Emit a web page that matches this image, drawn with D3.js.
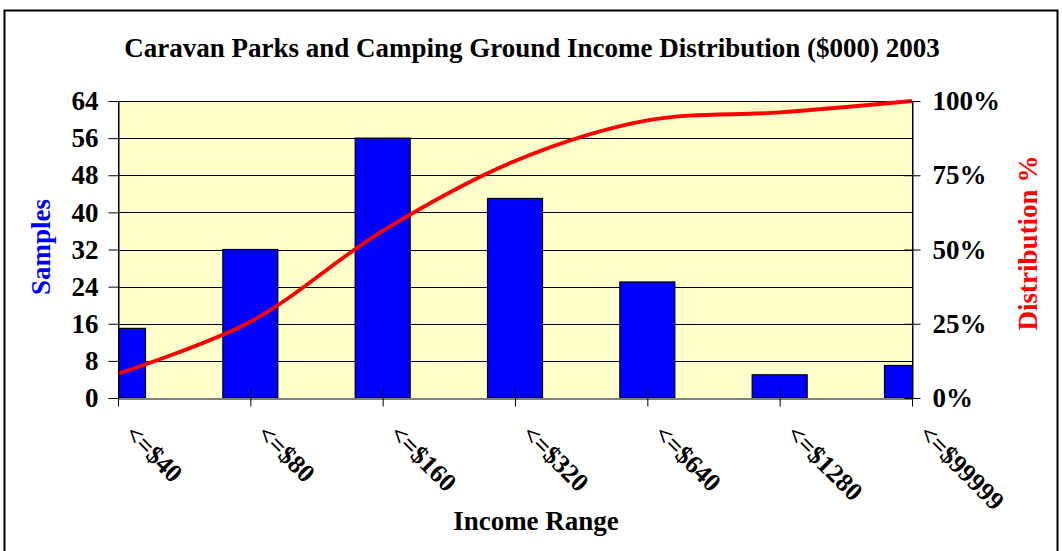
<!DOCTYPE html>
<html>
<head>
<meta charset="utf-8">
<script src="https://cdn.jsdelivr.net/npm/d3@7"></script>
<style>
  body { margin: 0; background: #fff; }
  text { font-family: "Liberation Serif", "Times New Roman", serif; font-weight: bold; }
</style>
</head>
<body>
<script>
// chart values
const categories = ["<=$40", "<=$80", "<=$160", "<=$320", "<=$640", "<=$1280", "<=$99999"];
const samples = [15, 32, 56, 43, 25, 5, 7];
const leftTicks = [0, 8, 16, 24, 32, 40, 48, 56, 64];
const rightTicks = [0, 0.25, 0.5, 0.75, 1];

const W = 1062, H = 551;
const plot = { left: 118, right: 912, top: 101, bottom: 398 };
const fs = 27;

const svg = d3.select("body").append("svg")
    .attr("width", W)
    .attr("height", H);

// outer frame
svg.append("rect")
    .attr("x", 4.5).attr("y", 10.5)
    .attr("width", 1053).attr("height", 560)
    .attr("fill", "none")
    .attr("stroke", "#000")
    .attr("stroke-width", 2);

const x = d3.scalePoint()
    .domain(categories)
    .range([plot.left, plot.right]);
const yL = d3.scaleLinear().domain([0, 64]).range([plot.bottom, plot.top]);
const yR = d3.scaleLinear().domain([0, 1]).range([plot.bottom, plot.top]);

// cumulative distribution
const total = d3.sum(samples);
let run = 0;
const cumul = samples.map(v => { run += v; return run / total; });

// plot background
svg.append("rect")
    .attr("x", plot.left).attr("y", plot.top)
    .attr("width", plot.right - plot.left)
    .attr("height", plot.bottom - plot.top)
    .attr("fill", "#FFFFCC");

svg.append("clipPath").attr("id", "clip")
    .append("rect")
    .attr("x", plot.left).attr("y", plot.top - 5)
    .attr("width", plot.right - plot.left)
    .attr("height", plot.bottom - plot.top + 5);

// gridlines
svg.append("g")
    .selectAll("line")
    .data(leftTicks.slice(1))
    .join("line")
    .attr("x1", plot.left).attr("x2", plot.right)
    .attr("y1", d => Math.round(yL(d)) + 0.5)
    .attr("y2", d => Math.round(yL(d)) + 0.5)
    .attr("stroke", "#000")
    .attr("stroke-width", 1);

// bars
const barW = 55;
svg.append("g")
    .attr("clip-path", "url(#clip)")
    .selectAll("rect")
    .data(samples)
    .join("rect")
    .attr("x", (d, i) => x(categories[i]) - barW / 2)
    .attr("y", d => yL(d))
    .attr("width", barW)
    .attr("height", d => plot.bottom - yL(d))
    .attr("fill", "#0000FF")
    .attr("stroke", "#000")
    .attr("stroke-width", 1.2);

// cumulative line
const line = d3.line()
    .x((d, i) => x(categories[i]))
    .y(d => yR(d))
    .curve(d3.curveCatmullRom);

svg.append("path")
    .datum(cumul)
    .attr("d", line)
    .attr("fill", "none")
    .attr("stroke", "#FF0000")
    .attr("stroke-width", 3.8);

// plot border left/right
svg.append("line")
    .attr("x1", plot.left + 0.5).attr("x2", plot.left + 0.5)
    .attr("y1", plot.top).attr("y2", plot.bottom)
    .attr("stroke", "#000");
svg.append("line")
    .attr("x1", plot.right + 0.5).attr("x2", plot.right + 0.5)
    .attr("y1", plot.top).attr("y2", plot.bottom)
    .attr("stroke", "#000");

// axes
svg.append("g")
    .attr("transform", "translate(" + (plot.left + 0.5) + ",0)")
    .call(d3.axisLeft(yL).tickValues(leftTicks).tickSize(10).tickSizeOuter(0).tickPadding(10));

const rightAxis = svg.append("g")
    .attr("transform", "translate(" + (plot.right + 0.5) + ",0)")
    .call(d3.axisRight(yR).tickValues(rightTicks).tickSize(8)
        .tickSizeOuter(0).tickPadding(12).tickFormat(d3.format(".0%")));
rightAxis.selectAll(".tick line").attr("x1", -8);

const bottomAxis = svg.append("g")
    .attr("transform", "translate(0," + (plot.bottom + 0.5) + ")")
    .call(d3.axisBottom(x).tickSize(8).tickSizeOuter(0));
bottomAxis.selectAll(".tick line").attr("y1", -10);

svg.selectAll(".domain").attr("stroke", "#000");
svg.selectAll(".tick line").attr("stroke", "#000");
svg.selectAll(".tick text")
    .attr("font-family", "Liberation Serif")
    .attr("font-size", fs)
    .attr("font-weight", "bold")
    .attr("fill", "#000");

bottomAxis.selectAll(".tick text")
    .attr("text-anchor", "start")
    .attr("font-size", 26)
    .attr("transform", "translate(5,37) rotate(45)")
    .attr("x", 0).attr("y", 0).attr("dy", 0);

// title and axis labels
svg.append("text")
    .attr("x", 532).attr("y", 57)
    .attr("text-anchor", "middle")
    .attr("font-size", fs)
    .text("Caravan Parks and Camping Ground Income Distribution ($000) 2003");

svg.append("text")
    .attr("transform", "translate(50,247) rotate(-90)")
    .attr("text-anchor", "middle")
    .attr("font-size", fs)
    .attr("fill", "#0000FF")
    .text("Samples");

svg.append("text")
    .attr("transform", "translate(1037,243) rotate(-90)")
    .attr("text-anchor", "middle")
    .attr("font-size", fs)
    .attr("fill", "#FF0000")
    .text("Distribution %");

svg.append("text")
    .attr("x", 536).attr("y", 530)
    .attr("text-anchor", "middle")
    .attr("font-size", fs)
    .text("Income Range");
</script>
</body>
</html>
